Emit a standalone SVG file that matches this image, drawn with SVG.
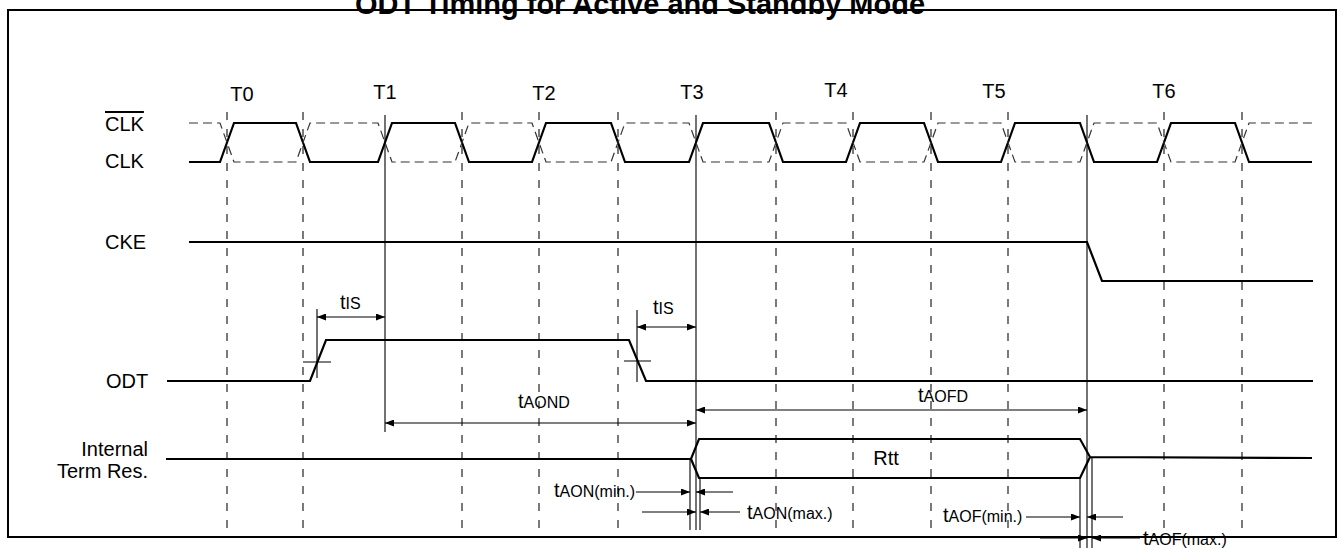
<svg xmlns="http://www.w3.org/2000/svg" width="1343" height="548" viewBox="0 0 1343 548">
<style>
.txt{font-family:"Liberation Sans",Arial,sans-serif;font-size:20px;fill:#000}
.sub{font-size:16px}
.title{font-family:"Liberation Sans",Arial,sans-serif;font-size:29px;font-weight:bold;fill:#000}
.wave{fill:none;stroke:#000;stroke-width:2.2}
.thin{fill:none;stroke:#000;stroke-width:1.1}
.grid{fill:none;stroke:#222;stroke-width:1.2;stroke-dasharray:8 9}
.clkb{fill:none;stroke:#333;stroke-width:1.2;stroke-dasharray:9 5}
.arr{fill:none;stroke:#000;stroke-width:1.1;marker-end:url(#ah)}
.arr2{fill:none;stroke:#000;stroke-width:1.1;marker-end:url(#ah);marker-start:url(#ah)}
</style>
<defs>
<marker id="ah" markerWidth="9" markerHeight="7" refX="9" refY="3.5" orient="auto-start-reverse" markerUnits="userSpaceOnUse">
<path d="M0,0 L9,3.5 L0,7 z" fill="#000"/>
</marker>
</defs>
<rect x="0" y="0" width="1343" height="548" fill="#fff"/>
<g id="frame">
<rect x="8" y="10" width="1328" height="527" fill="none" stroke="#000" stroke-width="2"/>
<text class="title" x="355" y="14" textLength="570" lengthAdjust="spacingAndGlyphs">ODT Timing for Active and Standby Mode</text>
</g>
<g id="grid">
<path class="grid" d="M227,112V528M303,112V528M462,112V528M539,112V528M618,112V528M776,112V528M853,112V528M931,112V528M1008,112V528M1164,112V528M1242,112V528"/>
<path class="thin" d="M385,115V432M696,115V530M1087,115V548"/>
</g>
<g id="labels">
<text class="txt" x="242" y="101" text-anchor="middle">T0</text>
<text class="txt" x="385" y="99" text-anchor="middle">T1</text>
<text class="txt" x="544" y="100" text-anchor="middle">T2</text>
<text class="txt" x="692" y="99" text-anchor="middle">T3</text>
<text class="txt" x="836" y="97" text-anchor="middle">T4</text>
<text class="txt" x="994" y="98" text-anchor="middle">T5</text>
<text class="txt" x="1164" y="98" text-anchor="middle">T6</text>
<text class="txt" x="105" y="131" text-decoration="overline">CLK</text>
<text class="txt" x="105" y="168">CLK</text>
<text class="txt" x="105" y="249">CKE</text>
<text class="txt" x="106" y="388">ODT</text>
<text class="txt" x="148" y="456" text-anchor="end">Internal</text>
<text class="txt" x="148" y="478" text-anchor="end">Term Res.</text>
</g>
<g id="clk">
<path class="wave" d="M189,162 L220,162 L234,123 L296,123 L310,162 L378,162 L392,123 L455,123 L469,162 L532,162 L546,123 L611,123 L625,162 L689,162 L703,123 L769,123 L783,162 L846,162 L860,123 L924,123 L938,162 L1001,162 L1015,123 L1080,123 L1094,162 L1157,162 L1171,123 L1235,123 L1249,162 L1312,162"/>
<path class="clkb" d="M189,123 L220,123 L234,162 L296,162 L310,123 L378,123 L392,162 L455,162 L469,123 L532,123 L546,162 L611,162 L625,123 L689,123 L703,162 L769,162 L783,123 L846,123 L860,162 L924,162 L938,123 L1001,123 L1015,162 L1080,162 L1094,123 L1157,123 L1171,162 L1235,162 L1249,123 L1315,123"/>
</g>
<g id="cke">
<path class="wave" d="M189,242 L1087,242 L1102,281 L1313,281"/>
</g>
<g id="odt">
<path class="wave" d="M167,381 L310,381 L326,340 L629,340 L646,381 L1313,381"/>
<path class="thin" d="M303,362H331M624,361H651M317,309V378M637,310V382"/>
</g>
<g id="rtt">
<path class="wave" d="M166,459 L691,459 L699,439 L1080,439 L1090,457 L1080,478 L699,478 L691,459 M1090,457 L1312,458"/>
<text class="txt" x="886" y="465" text-anchor="middle">Rtt</text>
<path class="thin" d="M690,459V530M700,478V530M1080,478V548M1092,457V548"/>
</g>
<g id="connectors">
<path class="arr2" d="M317,317H385"/>
<path class="arr2" d="M637,327H696"/>
<path class="arr2" d="M385,423H696"/>
<path class="arr2" d="M696,410H1087"/>
<path class="arr" d="M636,492H690"/>
<path class="arr" d="M733,492H696"/>
<path class="arr" d="M642,512H696"/>
<path class="arr" d="M740,512H700"/>
<path class="arr" d="M1026,517H1080"/>
<path class="arr" d="M1123,517H1087"/>
<path class="arr" d="M1040,538H1087"/>
<path class="arr" d="M1140,538H1092"/>
</g>
<g id="timing-labels">
<text class="txt" x="340" y="309">t<tspan class="sub">IS</tspan></text>
<text class="txt" x="653" y="314">t<tspan class="sub">IS</tspan></text>
<text class="txt" x="518" y="408">t<tspan class="sub">AOND</tspan></text>
<text class="txt" x="918" y="402">t<tspan class="sub">AOFD</tspan></text>
<text class="txt" x="554" y="497">t<tspan class="sub">AON(min.)</tspan></text>
<text class="txt" x="747" y="519">t<tspan class="sub">AON(max.)</tspan></text>
<text class="txt" x="943" y="522">t<tspan class="sub">AOF(min.)</tspan></text>
<text class="txt" x="1143" y="545">t<tspan class="sub">AOF(max.)</tspan></text>
</g>
</svg>
